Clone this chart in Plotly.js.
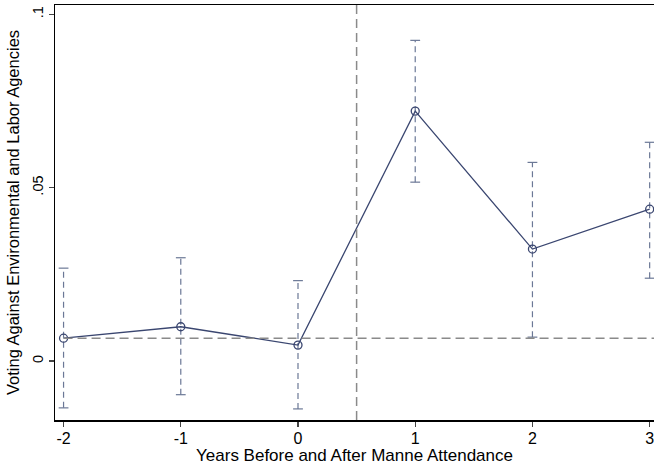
<!DOCTYPE html>
<html><head><meta charset="utf-8">
<script src="https://cdn.plot.ly/plotly-3.0.1.min.js"></script>
<style>html,body{margin:0;padding:0;background:#fff}#c{width:654px;height:465px}</style>
</head><body><div id="c"></div>
<script>
const years = [-2, -1, 0, 1, 2, 3];
const estimates = [0.0066, 0.0099, 0.0046, 0.0721, 0.0323, 0.0438];
const ciLow = [-0.0135, -0.0097, -0.0138, 0.0516, 0.0069, 0.0239];
const ciHigh = [0.0268, 0.0298, 0.0232, 0.0925, 0.0573, 0.0631];
const xTickVals = [-2, -1, 0, 1, 2, 3];
const xTickText = ["-2", "-1", "0", "1", "2", "3"];
const yTickVals = [0, 0.05, 0.1];
const yTickText = ["0", ".05", ".1"];
const refX = 0.5;
const refY = 0.0066;
const refYStart = -2;

const ebX = [], ebY = [];
years.forEach((x, i) => { ebX.push(x, x, null); ebY.push(ciLow[i], ciHigh[i], null); });

const ebColor = '#6b7896';
const navy = '#3a4670';
const font = 'Liberation Sans, Arial, sans-serif';

const traces = [
  {x: ebX, y: ebY, mode: 'lines', line: {color: ebColor, width: 1.2, dash: '6px,4px'}, hoverinfo: 'skip', showlegend: false},
  {x: years.concat(years), y: ciLow.concat(ciHigh), mode: 'markers', marker: {symbol: 'line-ew', size: 7, line: {color: ebColor, width: 1.2}}, showlegend: false},
  {x: years, y: estimates, mode: 'lines+markers', line: {color: navy, width: 1.3}, marker: {symbol: 'circle-open', size: 8, color: navy, line: {width: 1.3, color: navy}}, showlegend: false}
];

const layout = {
  width: 654, height: 465,
  margin: {l: 55, r: 0, t: 5, b: 45},
  paper_bgcolor: '#fff', plot_bgcolor: '#fff',
  font: {family: font, color: '#000', size: 16},
  xaxis: {
    range: [-2.073, 3.037], showgrid: false, zeroline: false,
    tickvals: xTickVals, ticktext: xTickText, ticks: 'outside', ticklen: 5, tickwidth: 1.2,
    ticklabeloverflow: 'allow', ticklabelstandoff: -2,
    showline: true, linecolor: '#000', linewidth: 1.5, mirror: true,
    tickfont: {size: 16, family: font},
    title: {text: 'Years Before and After Manne Attendance', font: {size: 17, family: font}, standoff: 5}
  },
  yaxis: {
    range: [-0.017, 0.1027], showgrid: false, zeroline: false,
    tickvals: yTickVals, ticktext: yTickText, ticks: 'outside', ticklen: 5, tickwidth: 1.2,
    tickangle: -90,
    showline: true, linecolor: '#000', linewidth: 1.5,
    tickfont: {size: 14.5, family: font},
    title: {text: 'Voting Against Environmental and Labor Agencies', font: {size: 16.5, family: font}, standoff: 6}
  },
  shapes: [
    {type: 'line', xref: 'x', yref: 'paper', x0: refX, x1: refX, y0: 0, y1: 1, line: {color: '#8a8a8a', width: 1.5, dash: '9px,5px'}},
    {type: 'line', xref: 'x', yref: 'y', x0: refYStart, x1: 3.037, y0: refY, y1: refY, line: {color: '#8a8a8a', width: 1.5, dash: '9px,5px'}}
  ]
};
Plotly.newPlot('c', traces, layout, {staticPlot: true});
</script></body></html>
